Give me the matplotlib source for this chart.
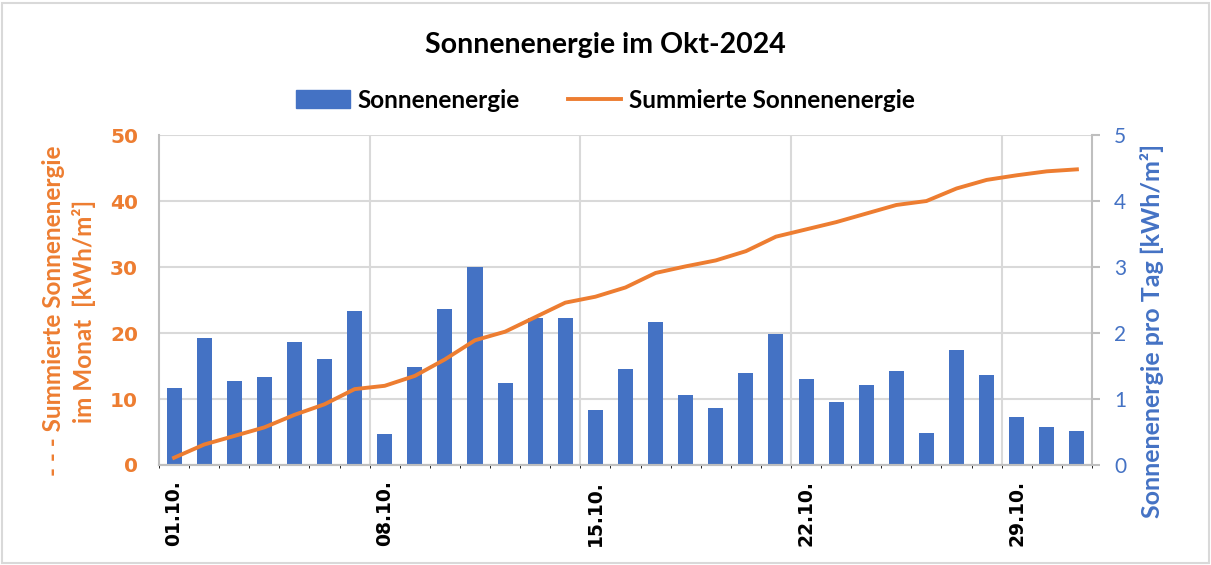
#Sonnenenergie Okt-2024: Tageswerte (Balken) und Monatssumme (Linie)

import matplotlib.pyplot as plt
from matplotlib.patches import Rectangle, Patch
from matplotlib.lines import Line2D
import numpy as np

plt.rcParams['font.family'] = ['Lato', 'DejaVu Sans']

days = list(range(1, 32))
tag_energie = [1.16, 1.93, 1.27, 1.33, 1.86, 1.60, 2.34, 0.47, 1.48, 2.36,
               3.00, 1.25, 2.23, 2.23, 0.84, 1.45, 2.17, 1.06, 0.87, 1.40,
               1.99, 1.31, 0.96, 1.21, 1.43, 0.48, 1.74, 1.37, 0.73, 0.58, 0.52]
summe = [1.1, 3.1, 4.4, 5.7, 7.6, 9.2, 11.5, 12.0, 13.5, 16.0,
         18.9, 20.2, 22.4, 24.6, 25.5, 26.9, 29.1, 30.1, 31.0, 32.4,
         34.6, 35.7, 36.8, 38.1, 39.4, 40.0, 41.9, 43.2, 43.9, 44.5, 44.8]
tick_days = [1, 8, 15, 22, 29]
tick_labels = ['01.10.', '08.10.', '15.10.', '22.10.', '29.10.']

orange = '#ED7D31'
blue = '#4472C4'

fig = plt.figure(figsize=(12.11, 5.65), dpi=100)
fig.patches.append(Rectangle((0.002, 0.004), 0.996, 0.99, transform=fig.transFigure,
                             fill=False, edgecolor='#D9D9D9', linewidth=1.5))

ax = fig.add_axes([0.1313, 0.177, 0.7704, 0.584])
ax2 = ax.twinx()

# Balken + Gitter auf der rechten Achse (liegt unten)
ax2.bar(days, tag_energie, width=0.5, color=blue, zorder=2)
ax2.set_ylim(0, 5)
ax2.set_yticks([0, 1, 2, 3, 4, 5])
ax2.set_axisbelow(True)
ax2.grid(axis='y', color='#D9D9D9', linewidth=1.5)
ax2.set_xticks(np.arange(0.5, 32, 1), minor=True)
ax2.grid(axis='x', which='minor', color='#EFEFEF', linewidth=1.5)
for x in [7.5, 14.5, 21.5, 28.5]:
    ax2.axvline(x, color='#D9D9D9', linewidth=1.5, zorder=1)
ax2.tick_params(axis='y', labelcolor=blue, color='#BFBFBF', labelsize=15,
                length=6, width=1.5, pad=10)

# Linie auf der linken Achse (oben)
ax.set_zorder(ax2.get_zorder() + 1)
ax.patch.set_visible(False)
ax.plot(days, summe, color=orange, linewidth=2.8)
ax.set_ylim(0, 50)
ax.set_yticks([0, 10, 20, 30, 40, 50])
ax.set_xlim(0.5, 31.5)
ax2.set_xlim(0.5, 31.5)
ax.set_xticks(tick_days)
ax.set_xticklabels(tick_labels, rotation=90, fontsize=13.5, fontweight='bold',
                   family='DejaVu Sans')
ax.tick_params(axis='x', length=0, pad=11)
ax.tick_params(axis='y', length=0, colors=orange, pad=15)
for lbl in ax.get_yticklabels():
    lbl.set_fontweight('bold')
    lbl.set_family('DejaVu Sans')
    lbl.set_fontsize(14.5)

# Achsentitel
fig.text(69 / 1211, 1 - 311 / 565, '- - - Summierte Sonnenenergie\nim Monat  [kWh/m²]',
         rotation=90, ha='center', va='center', multialignment='center',
         color=orange, fontsize=17.5, fontweight='bold', linespacing=1.35)
fig.text(1152 / 1211, 1 - 331 / 565, 'Sonnenenergie pro Tag [kWh/m²]',
         rotation=90, ha='center', va='center', color=blue, fontsize=18,
         fontweight='bold')

for a in (ax, ax2):
    for s in a.spines.values():
        s.set_visible(False)
    a.spines['bottom'].set_visible(True)
    a.spines['bottom'].set_color('#BFBFBF')
    a.spines['bottom'].set_linewidth(1.5)
ax2.spines['right'].set_visible(True)
ax2.spines['right'].set_color('#BFBFBF')
ax2.spines['right'].set_linewidth(1.5)
ax.spines['left'].set_visible(True)
ax.spines['left'].set_color('#BFBFBF')
ax.spines['left'].set_linewidth(1.5)
ax2.tick_params(axis='x', which='both', length=0)

fig.text(0.5, 0.92, 'Sonnenenergie im Okt-2024', ha='center', va='center',
         fontsize=20.5, fontweight='bold')

handles = [Patch(color=blue), Line2D([0], [0], color=orange, linewidth=2.8)]
fig.legend(handles, ['Sonnenenergie', 'Summierte Sonnenenergie'], loc='center',
           bbox_to_anchor=(0.5, 0.823), ncol=2, frameon=False,
           prop={'size': 17.5, 'weight': 'bold'}, handlelength=2.2,
           handletextpad=0.3, columnspacing=2.0)

plt.savefig('out.png', dpi=100)
